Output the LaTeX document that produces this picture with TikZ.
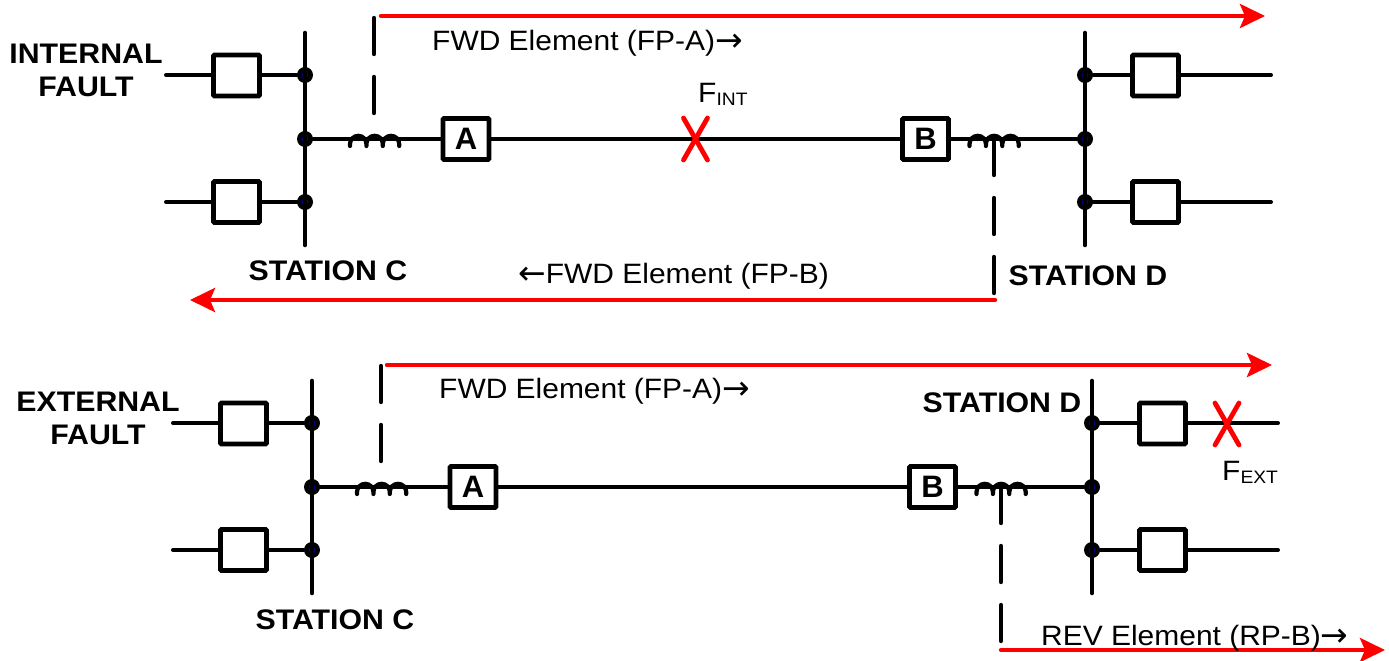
\documentclass[tikz,border=0pt]{standalone}
\usepackage{fontspec}
\setmainfont{Liberation Sans}
\newfontfamily\stretchfont[FakeStretch=1.07]{Liberation Sans}
\newfontfamily\arrowfont{DejaVu Sans}
\usetikzlibrary{arrows.meta,calc}
\definecolor{fred}{RGB}{255,0,0}
\definecolor{jnavy}{RGB}{0,0,140}
\tikzset{
 wire/.style={line width=4pt,line cap=round,black},
 busbar/.style={line width=4.6pt,line cap=round,black},
 relaybox/.style={draw=black,line width=4.6pt,rounded corners=0.8pt,fill=white,minimum width=46pt,minimum height=41pt,inner sep=0pt,font=\fontsize{31}{31}\selectfont\bfseries},
 junction/.style={circle,fill=black,minimum size=16pt,inner sep=0pt,path picture={\fill[jnavy] (path picture bounding box.center) circle (3.4pt);}},
 ctdash/.style={line width=4.4pt,line cap=round,black,dash pattern=on 36pt off 23pt},
 redarrow/.style={line width=4.4pt,fred,line cap=round,-{Stealth[length=25pt,width=24pt,inset=5pt]}},
 coil/.style={line width=4.2pt,line cap=round,black},
 faultx/.style={line width=4.8pt,line cap=round,fred},
 lbl/.style={inner sep=0pt,font=\stretchfont\fontsize{28}{30}\selectfont,anchor=west},
 bold/.style={inner sep=0pt,align=center,font=\stretchfont\fontsize{28.3}{33}\selectfont\bfseries},
}
\newcommand{\rarr}{{\arrowfont\fontsize{33}{30}\selectfont\raisebox{-1pt}{→}}}
\newcommand{\larr}{{\arrowfont\fontsize{33}{30}\selectfont\raisebox{-1pt}{←}}}
\newcommand{\coilat}[1]{%
 \draw[coil] ($(#1)+(-24.5,7)$) -- ++(0,-2) arc (180:360:8.2) ++(0,2) -- ++(0,-2) arc (180:360:8.2) ++(0,2) -- ++(0,-2) arc (180:360:8.2) -- ++(0,2);}
\newcommand{\crossat}[1]{%
 \draw[faultx] ($(#1)+(-12,-21)$) -- ($(#1)+(12,21)$);
 \draw[faultx] ($(#1)+(12,-21)$) -- ($(#1)+(-12,21)$);}
\newcommand{\panel}[1]{%
 \coordinate (#1bt) at (305,33); \coordinate (#1bb) at (305,245);
 \coordinate (#1dt) at (1085,33); \coordinate (#1db) at (1085,245);
 \node[junction] (#1j1) at (305,75) {};
 \node[junction] (#1j2) at (305,139) {};
 \node[junction] (#1j3) at (305,202) {};
 \node[junction] (#1k1) at (1085,75) {};
 \node[junction] (#1k2) at (1085,139) {};
 \node[junction] (#1k3) at (1085,202) {};
 \node[relaybox] (#1c1) at (236.5,75.5) {};
 \node[relaybox] (#1c3) at (236.5,202) {};
 \node[relaybox] (#1d1) at (1155.5,75.5) {};
 \node[relaybox] (#1d3) at (1155.5,202) {};
 \node[relaybox] (#1a) at (466,139) {A};
 \node[relaybox] (#1b) at (925.5,139) {B};
 \coordinate (#1l1) at (166,75); \coordinate (#1l3) at (166,202);
 \coordinate (#1r1) at (1271,75); \coordinate (#1r3) at (1271,202);
 \coordinate (#1ca) at (374.5,139); \coordinate (#1cb) at (994,139);
 \draw[busbar] (#1bt) -- (#1bb);
 \draw[busbar] (#1dt) -- (#1db);
 \draw[wire] (#1l1) -- (#1c1.west |- #1l1); \draw[wire] (#1c1.east |- #1j1) -- (#1j1);
 \draw[wire] (#1l3) -- (#1c3); \draw[wire] (#1c3) -- (#1j3);
 \draw[wire] (#1k1) -- (#1d1.west |- #1k1); \draw[wire] (#1d1.east |- #1r1) -- (#1r1);
 \draw[wire] (#1k3) -- (#1d3); \draw[wire] (#1d3) -- (#1r3);
 \draw[wire] (#1j2) -- (#1a); \draw[wire] (#1a) -- (#1b); \draw[wire] (#1b) -- (#1k2);
 \coilat{#1ca} \coilat{#1cb}
}
\begin{document}
\begin{tikzpicture}[x=1pt,y=-1pt]
\useasboundingbox (0,0) rectangle (1389,661);
% upper panel
\panel{u}
\coordinate (uas) at (374,18); \coordinate (uae) at (374,113);
\draw[ctdash] (uas) -- (uae);
\coordinate (ubs) at (994,139); \coordinate (ube) at (994,296);
\draw[ctdash] (ubs) -- (ube);
\coordinate (ura1) at (381,16); \coordinate (ura2) at (1265,16);
\draw[redarrow] (ura1) -- (ura2);
\coordinate (urb1) at (995,300); \coordinate (urb2) at (190,300);
\draw[redarrow] (urb1) -- (urb2);
\node[lbl] (ufa) at (432,43) {FWD Element (FP-A)\rarr};
\node[lbl] (ufb) at (518,276) {\larr FWD Element (FP-B)};
\node[lbl] (ufint) at (698,94) {F\raisebox{-3pt}{\fontsize{18}{18}\selectfont INT}};
\coordinate (ux) at (695.5,139);
\crossat{ux}
\node[bold] (utitle) at (86,70) {INTERNAL\\FAULT};
\node[bold] (usc) at (328,271) {STATION C};
\node[bold] (usd) at (1088,276) {STATION D};
% lower panel
\begin{scope}[shift={(7,348)}]
\panel{v}
\end{scope}
\coordinate (vas) at (381,366); \coordinate (vae) at (381,461);
\draw[ctdash] (vas) -- (vae);
\coordinate (vbs) at (1001,487); \coordinate (vbe) at (1001,644);
\draw[ctdash] (vbs) -- (vbe);
\coordinate (vra1) at (387,365); \coordinate (vra2) at (1272,365);
\draw[redarrow] (vra1) -- (vra2);
\coordinate (vrb1) at (1001,650); \coordinate (vrb2) at (1385,650);
\draw[redarrow] (vrb1) -- (vrb2);
\node[lbl] (vfa) at (439,391) {FWD Element (FP-A)\rarr};
\node[lbl] (vrb) at (1041,638) {REV Element (RP-B)\rarr};
\node[lbl] (vfext) at (1222,472) {F\raisebox{-3pt}{\fontsize{18}{18}\selectfont EXT}};
\coordinate (vx) at (1227,424);
\crossat{vx}
\node[bold] (vtitle) at (98,418) {EXTERNAL\\FAULT};
\node[bold] (vsc) at (335,620) {STATION C};
\node[bold] (vsd) at (1002,403) {STATION D};
\end{tikzpicture}
\end{document}
